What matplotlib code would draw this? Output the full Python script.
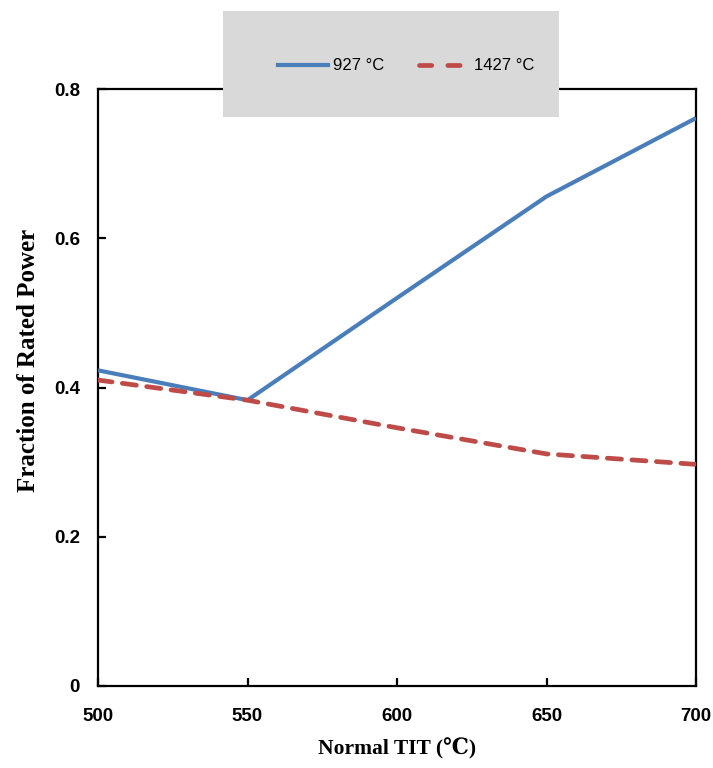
import matplotlib
matplotlib.use("Agg")
import matplotlib.pyplot as plt
from matplotlib.patches import Rectangle
from matplotlib.lines import Line2D

# ---- data ----
tit = [500, 550, 600, 650, 700]
series_927 = [0.423, 0.383, 0.520, 0.656, 0.761]
series_1427 = [0.410, 0.383, 0.346, 0.311, 0.297]
label_927 = "927 °C"
label_1427 = "1427 °C"
xticks = [500, 550, 600, 650, 700]
yticks = [0, 0.2, 0.4, 0.6, 0.8]
ytick_labels = ["0", "0.2", "0.4", "0.6", "0.8"]

blue = "#4a7ebb"
red = "#be4b48"
tick_font = ["Liberation Sans", "DejaVu Sans"]
serif_font = ["Liberation Serif", "DejaVu Serif"]

fig = plt.figure(figsize=(7.13, 7.68), dpi=100)
ax = fig.add_axes([98/713, 1-686/768, (696-98)/713, (686-89)/768])

ax.plot(tit, series_927, color=blue, lw=3.0, solid_capstyle="butt", zorder=3)
ax.plot(tit, series_1427, color=red, lw=3.4, dashes=(3.0, 2.2), dash_capstyle="round", zorder=3)

ax.set_xlim(500, 700)
ax.set_ylim(0, 0.8)
ax.set_xticks(xticks)
ax.set_xticklabels([str(v) for v in xticks])
ax.set_yticks(yticks)
ax.set_yticklabels(ytick_labels)
for s in ax.spines.values():
    s.set_linewidth(1.6)
    s.set_color("black")
ax.tick_params(axis="both", direction="in", length=6, width=1.6, colors="black")
ax.tick_params(axis="x", pad=16)
ax.tick_params(axis="y", pad=13)
for lab in ax.get_xticklabels() + ax.get_yticklabels():
    lab.set_fontfamily(tick_font)
    lab.set_fontweight("bold")
    lab.set_fontsize(13.5)

ax.set_xlabel("Normal TIT (℃)", family=serif_font, fontweight="bold", fontsize=15.5)
ax.set_ylabel("Fraction of Rated Power", family=serif_font, fontweight="bold", fontsize=18)
ax.xaxis.set_label_coords(0.5, -0.088)
ax.yaxis.set_label_coords(-0.097, 0.546)

# legend background box
bg = Rectangle((223/713, 1-117/768), (559-223)/713, (117-11)/768, transform=fig.transFigure,
               facecolor="#d9d9d9", edgecolor="none", zorder=5)
fig.patches.append(bg)
handles = [Line2D([], [], color=blue, lw=3.0),
           Line2D([], [], color=red, lw=3.4, dashes=(2.6, 3.4), dash_capstyle="round")]
leg = fig.legend(handles, [label_927, label_1427], loc="center",
                 bbox_to_anchor=(406/713, 1-66/768), ncol=2,
                 frameon=False, handlelength=3.0, handletextpad=0.3, columnspacing=2.1,
                 prop={"family": tick_font, "size": 12})
leg.set_zorder(6)

fig.savefig("out.png", dpi=100)
